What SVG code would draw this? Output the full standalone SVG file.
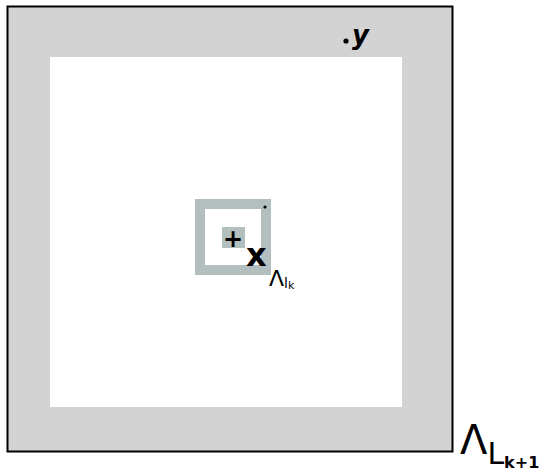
<svg xmlns="http://www.w3.org/2000/svg" width="551" height="475" viewBox="0 0 551 475">
<style>
.hw{font-family:"DejaVu Sans",sans-serif;fill:#000}
</style>
<rect width="551" height="475" fill="#fff"/>
<g id="outer-box">
<rect x="7.5" y="6.5" width="445" height="445" fill="#d3d3d3" stroke="#000" stroke-width="2"/>
<rect x="50" y="57" width="352" height="350" fill="#fff"/>
</g>
<g id="small-box">
<rect x="200" y="204" width="66" height="66" fill="#fff" stroke="#b2bfbe" stroke-width="10"/>
<rect x="222" y="227" width="23" height="21" fill="#b2bfbe"/>
<circle cx="265" cy="207" r="1.6" fill="#000"/>
</g>
<g id="labels">
<text class="hw" x="233" y="247" font-size="24" font-weight="bold" text-anchor="middle">+</text>
<text class="hw" x="246" y="266" font-size="32" font-weight="bold">x</text>
<text class="hw" x="269" y="286" font-size="22">Λ<tspan font-size="14" dy="2">l</tspan><tspan font-size="11" dy="1">k</tspan></text>
<circle cx="346" cy="41" r="2.6" fill="#000"/>
<text class="hw" x="352" y="44" font-size="26" font-style="italic" font-weight="bold">y</text>
<text class="hw" x="460" y="454" font-size="40">Λ<tspan font-size="30" dy="10">L</tspan><tspan font-size="16" font-weight="bold" dy="4">k+1</tspan></text>
</g>
</svg>
